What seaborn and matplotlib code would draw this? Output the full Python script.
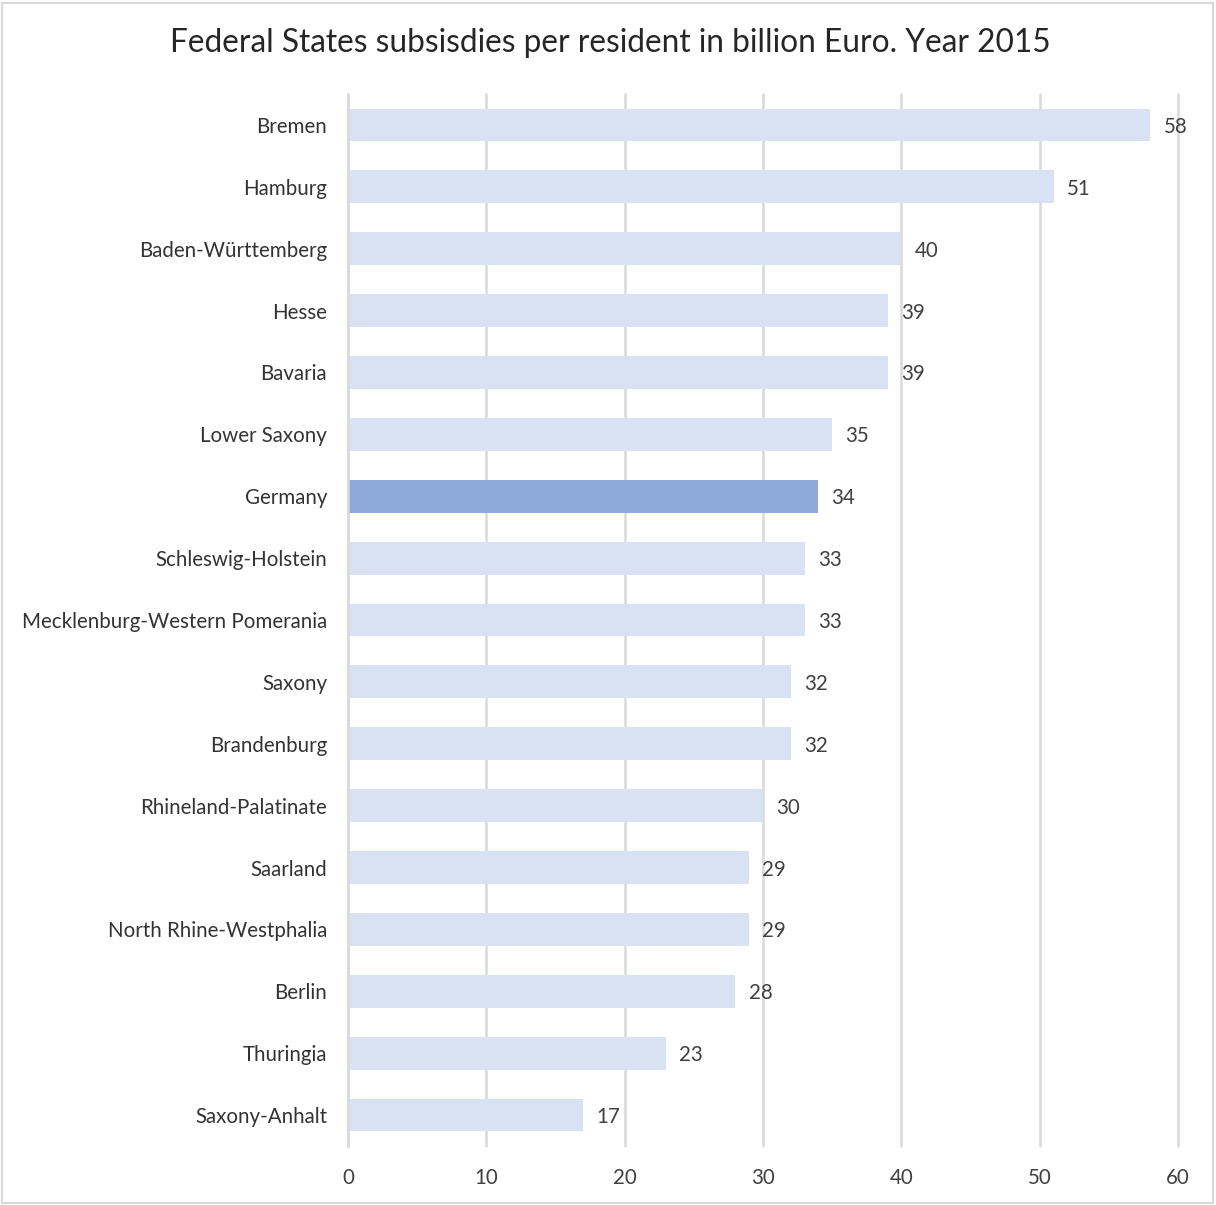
import matplotlib
matplotlib.use("Agg")
import matplotlib.pyplot as plt
import seaborn as sns
import pandas as pd
from matplotlib.patches import Rectangle

states = ["Bremen", "Hamburg", "Baden-Württemberg", "Hesse", "Bavaria", "Lower Saxony",
          "Germany", "Schleswig-Holstein", "Mecklenburg-Western Pomerania", "Saxony",
          "Brandenburg", "Rhineland-Palatinate", "Saarland", "North Rhine-Westphalia",
          "Berlin", "Thuringia", "Saxony-Anhalt"]
values = [58, 51, 40, 39, 39, 35, 34, 33, 33, 32, 32, 30, 29, 29, 28, 23, 17]
highlight = "Germany"
x_ticks = [0, 10, 20, 30, 40, 50, 60]
title = "Federal States subsisdies per resident in billion Euro. Year 2015"

sns.set_theme(style="white")
plt.rcParams['font.family'] = ['Lato', 'DejaVu Sans']

df = pd.DataFrame({"state": states, "value": values})
light = "#D9E2F3"
dark = "#8EAADB"
palette = {s: (dark if s == highlight else light) for s in states}

fig = plt.figure(figsize=(12.16, 12.05), dpi=100)
ax = fig.add_axes([348/1216, 1-1146/1205, 830/1216, (1146-94)/1205])

sns.barplot(data=df, x="value", y="state", hue="state", palette=palette,
            order=states, legend=False, width=0.53, ax=ax, saturation=1,
            linewidth=0)

ax.set_xlim(0, 60)
ax.set_ylim(len(states)-0.5, -0.5)
ax.set_xticks(x_ticks)
ax.set_xticklabels([str(t) for t in x_ticks])
ax.xaxis.grid(True, color="#D9D9D9", linewidth=1.8)
ax.set_axisbelow(True)
for s in ["top", "right", "bottom"]:
    ax.spines[s].set_visible(False)
ax.spines["left"].set_color("#D9D9D9")
ax.spines["left"].set_linewidth(1.8)
ax.set_xlabel("")
ax.set_ylabel("")
ax.tick_params(axis="x", length=0, pad=16, labelsize=14.8, labelcolor="#404040")
ax.tick_params(axis="y", length=0, pad=15, labelsize=14.8, labelcolor="#333333")
for gl in ax.get_xgridlines():
    gl.set_clip_on(False)

for i, v in enumerate(values):
    ax.annotate(str(v), (v, i), xytext=(9.5, 0), textcoords="offset points",
                va="center_baseline", ha="left", fontsize=14.8, color="#404040")

fig.text(610/1216, 1-43/1205, title, ha="center", va="center", fontsize=22.8, color="#262626")

fig.patches.append(Rectangle((2/1216, 2/1205), 1211/1216, 1200/1205, transform=fig.transFigure,
                             fill=False, edgecolor="#D9D9D9", linewidth=1.5))

fig.savefig("out.png", dpi=100, facecolor="white")
